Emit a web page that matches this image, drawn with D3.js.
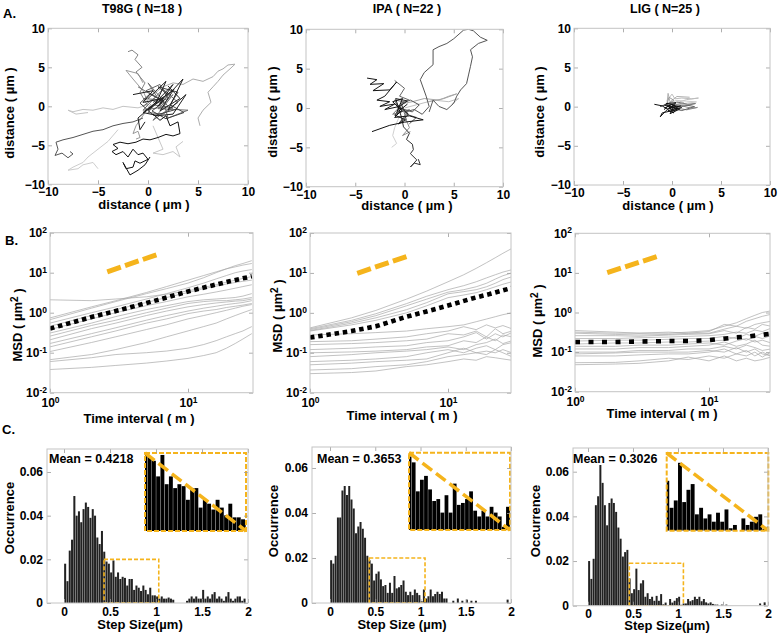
<!DOCTYPE html>
<html>
<head>
<meta charset="utf-8">
<script src="https://cdn.jsdelivr.net/npm/d3@7/dist/d3.min.js"></script>
<style>
html,body{margin:0;padding:0;background:#fff;}
svg text{font-family:"Liberation Sans",Arial,Helvetica,sans-serif;font-weight:bold;fill:#000;}
.ax line{stroke:#9a9a9a;stroke-width:0.8;}
.ax text{font-size:12px;}
</style>
</head>
<body>
<svg id="fig" width="780" height="637" xmlns="http://www.w3.org/2000/svg"></svg>
<script>
// ---------------- DATA ----------------
const panelTitles = ["T98G ( N=18 )", "IPA ( N=22 )", "LIG ( N=25 )"];
const panelLetters = ["A.", "B.", "C."];
const distTicks = [-10, -5, 0, 5, 10];

// trajectories (µm), one array of [x,y] per track
const tracksT98G = [
  [[0,0.2],[-1,-0.2],[-2.5,0],[-3.5,-0.4],[-4.5,-0.2],[-5.5,-0.5],[-6.5,-0.4],[-7.5,-0.7],[-8.0,-0.5],[-7.2,-1.0],[-6.0,-0.8]],
  [[-3.0,-3.0],[-4,-4.5],[-5,-5.5],[-6,-6.5],[-6.5,-7.2],[-7.5,-7.8],[-8.0,-8.2],[-7.0,-8.0],[-6.5,-7.5],[-5.5,-7.2],[-5.0,-8.0]],
  [[0.5,-2.5],[1,-4],[1.5,-5.5],[0.5,-6.0],[1.5,-6.2],[2.5,-5.8],[3.2,-6.5],[2.8,-5.2],[3.5,-4.5]],
  [[0.5,1.5],[1.5,2.5],[2.5,3.0],[3.5,2.8],[4.5,3.5],[5.5,3.2],[6.5,3.8],[7.0,4.5],[7.5,4.8],[8.0,5.3],[8.7,5.4],[8.2,4.8],[7.5,4.0],[7.0,3.2],[6.5,2.5],[6.0,1.8],[6.3,0.5],[5.5,-0.5],[5.0,-1.5],[5.2,-2.5]],
  [[0.3,0.3],[-1.2,-2.5],[-1.5,-3.5],[-1.0,-3.2],[-0.8,-4.0],[-1.2,-4.2]],
  [[0,0.5],[-0.5,2],[-1.5,3.5],[-2.2,4.6],[-1.0,4.2],[-0.5,3.0]],
  [[0,0],[-0.8,1.8],[-0.3,3.0],[-1.2,4.4],[-0.6,5.0],[-1.3,6.0],[-1.0,6.6],[-1.6,7.2],[-2.0,7.0]],
  [[-1,2.5],[1,1],[0,3],[2,0],[-0.5,-0.5],[1.5,2.2],[3,0.5],[0.5,-1.8],[2.5,1.5],[1.0,-0.3],[4.0,-0.5],[2.0,-1.5],[1.5,0.8],[-0.5,1.0]],
  [[-0.5,0],[0.8,1.2],[-0.2,2.0],[1.2,2.8],[2.0,1.0],[0.5,0.2],[2.5,-0.2],[1.5,-1.0],[0,-0.8],[1.0,0.8]],
  [[-0.5,-1.5],[-1.5,-2.0],[-2.5,-2.2],[-3.5,-2.5],[-4.5,-3.0],[-5.5,-3.2],[-6.5,-3.6],[-7.5,-4.0],[-8.5,-4.3],[-9.2,-4.6],[-9.0,-5.5],[-9.3,-6.3],[-8.6,-6.0],[-8.0,-6.6],[-7.5,-6.1],[-7.8,-5.8]],
  [[0.5,0.5],[2,1.5],[1,2.5],[3,1.8],[2.2,0.2],[3.6,-0.8],[1.8,-1.6],[0.4,-0.6],[1.6,0.6],[0.2,1.6],[-0.8,0.4],[0.6,-1.2],[2.8,-0.4]],
  [[-1.5,1.5],[0.5,2.0],[-0.5,0.5],[1.5,1.0],[0,-0.5],[2.5,2.8],[1.0,0],[3.5,3.5],[2.0,-0.5],[3.8,1.5],[2.5,-1],[1.0,-1.2],[-0.5,-0.8],[0.8,0.5],[-1.0,-1.5],[-0.8,-3.0],[-0.3,-2.0]],
  [[0,1],[1.8,3.2],[0.8,0.4],[2.6,2.2],[1.2,-0.6],[3.2,1.0],[2.0,2.6]],
  [[0.5,-1.0],[1.2,-1.8],[1.8,-1.2],[2.2,-2.5],[3.0,-2.0],[3.2,-3.5],[2.5,-3.8],[1.8,-3.6],[1.0,-4.0],[0.2,-4.3],[-0.5,-4.2],[-1.2,-4.6],[-2.0,-4.8],[-2.8,-4.6],[-3.5,-4.9],[-3.0,-5.4],[-3.6,-5.8],[-3.2,-6.2],[-2.5,-5.8],[-2.0,-6.5],[-1.5,-5.5],[-1.0,-6.2],[-0.5,-6.0],[0,-6.8],[-0.8,-7.3],[-1.3,-7.0],[-1.5,-7.8],[-2.2,-8.0],[-2.5,-7.2],[-1.8,-8.8],[-1.0,-8.2],[-0.3,-7.5],[0.2,-6.5]]
];
const shadesT98G = ["#c4c4c4","#cdcdcd","#c8c8c8","#adadad","#999","#9a9a9a","#858585","#6e6e6e","#666","#555","#444","#1e1e1e","#222","#111"];

const tracksIPA = [
  [[-0.5,-1],[-1,-2.5],[-1.2,-3.5],[-0.8,-4.5],[-1.3,-5.0]],
  [[0,0],[1.5,0.5],[3.0,1.0],[4.5,0.8],[5.5,1.2],[4.8,0.5]],
  [[-0.5,0.5],[0.8,0.8],[2.0,1.2],[3.5,1.0],[4.5,1.5],[5.3,1.8],[4.0,1.2],[2.5,0.8]],
  [[0,-1],[0.5,-2.5],[-0.2,-3.5],[0.6,-3.0]],
  [[-0.5,-0.5],[-1.0,1.0],[0,0.8],[-1.2,-0.8],[0.5,-0.2],[-0.6,-2.0],[0.2,-1.5],[-0.3,0.5]],
  [[-1.0,3.5],[0,2.5],[-0.5,1.5],[0.5,1.0]],
  [[-0.5,0],[0.8,-0.5],[1.5,0.4],[0.6,1.0],[-0.4,0.6],[0.2,-0.8],[1.2,-1.2],[0.5,-2.0]],
  [[0,-0.5],[1,-0.2],[1.8,-0.8],[2.5,0.2],[2.2,1.5],[1.6,3.6],[2.0,4.5],[2.9,5.5],[2.9,7.4],[3.5,7.8],[4.3,8.2],[5.0,8.8],[6.0,9.9],[6.5,10],[7.0,9.8],[7.7,9.0],[8.4,8.6],[7.5,8.2],[6.7,7.4],[6.9,6.5],[6.7,5.3],[6.5,4.2],[6.3,3.1],[5.7,2.3],[5.3,1.5],[5.0,0.6],[4.3,-0.2],[3.5,0.2],[2.9,1.0],[2.5,-0.5]],
  [[-0.3,-1.2],[-0.1,-2.4],[0.5,-3.2],[0.2,-4.0],[0.8,-4.6],[0.9,-5.3],[0.6,-5.8],[1.25,-6.6],[0.6,-7.5],[1.0,-7.0],[1.6,-7.2],[1.4,-6.5]],
  [[-0.8,0.6],[-0.2,-0.4],[-1.0,-0.9],[0.1,-1.5],[-0.6,-2.0],[0.4,-0.8],[-0.5,0.2],[0.3,0.9],[-0.9,1.2],[-0.3,-1.2]],
  [[-3.8,3.8],[-2.8,3.6],[-3.5,3.0],[-2.1,3.1],[-3.2,2.2],[-1.5,2.3],[-0.8,3.3],[-2.0,1.5],[-2.8,1.0],[-1.5,0.8],[-2.5,0.2],[-1.0,0.5],[-2.0,-0.2],[-0.5,0.2]],
  [[-3.3,-3.0],[-1.5,-2.2],[0,-1.8],[1.9,-1.5],[0.5,-1.0],[-1.0,-1.2],[-0.3,-0.3],[-1.2,0.8],[-0.2,1.2],[-0.8,-0.6],[0.3,0.5]]
];
const shadesIPA = ["#d0d0d0","#c0c0c0","#a8a8a8","#909090","#7a7a7a","#666","#555","#555","#333","#222","#151515","#111"];

const tracksLIG = [
  [[-0.5,0.8],[0,1.6],[0.3,1.0],[1.0,1.1],[2.0,1.0],[2.7,1.1],[1.5,0.9],[0.5,0.5]],
  [[-0.3,0.5],[0.5,0.8],[1.5,0.7],[2.5,0.6],[1.2,0.4]],
  [[-0.5,0.5],[-0.4,1.7],[-0.2,0.6],[0.5,1.3],[1.8,1.2]],
  [[-0.5,0.3],[0.2,0.8],[-0.3,1.2],[-0.5,0.4],[0.5,0.3],[1.2,0.5]],
  [[0,0],[1,0.1],[2.0,-0.2],[2.6,-0.1],[1.5,-0.4],[0.5,-0.2]],
  [[-0.3,0.1],[0.5,0.6],[1.6,0.3],[2.4,0.4],[1.0,0],[0.2,-0.3]],
  [[0,0.2],[1.5,0.2],[2.3,0.0],[1.0,-0.5],[0.3,-0.3]],
  [[-1.2,0],[-0.4,0.4],[0.2,-0.5],[1.0,-0.1],[-0.2,0.3],[-0.8,-0.4]],
  [[-0.8,-0.2],[0,0.3],[0.6,-0.2],[-0.4,-0.5],[0.2,-0.8],[-0.6,0.4],[0.4,0.5],[-0.2,-0.2],[0.9,0.1]],
  [[-1.8,0.3],[-1.0,0.1],[-0.5,-0.3],[0,0],[0.5,-0.4],[-0.3,-0.6],[-1.0,-0.8],[-1.2,-1.3],[-0.6,-0.5],[0.3,0.2],[-0.2,-0.9],[0.8,-0.3],[-0.8,0.2]]
];
const shadesLIG = ["#bdbdbd","#cccccc","#b0b0b0","#9a9a9a","#888","#777","#666","#333","#0a0a0a","#111"];

// MSD curves (µm²) sampled at these time lags (m)
const msdLags = [1, 2, 3, 5, 7, 10, 13, 16, 19, 22, 25, 29];
const msdT98G = [
  [2.1, 2.0, 2.2, 2.5, 2.9, 3.5, 4.3, 5.0, 5.8, 6.5, 7.2, 8.0],
  [0.74, 1.4, 2.0, 3.2, 4.5, 6.5, 8.5, 10.5, 12.5, 14, 15.5, 17],
  [0.67, 1.3, 1.9, 3.0, 4.0, 5.5, 7.5, 10, 12.5, 15, 17, 20],
  [0.55, 1.0, 1.4, 2.2, 3.0, 4.2, 5.5, 7, 8.5, 10, 11, 12],
  [0.46, 0.85, 1.2, 1.8, 2.4, 3.2, 4.0, 4.6, 5.2, 5.7, 6.1, 6.5],
  [0.38, 0.70, 1.0, 1.5, 1.9, 2.5, 2.9, 3.3, 3.7, 4.1, 4.5, 5.0],
  [0.31, 0.55, 0.8, 1.2, 1.5, 1.9, 2.1, 2.2, 2.3, 2.4, 2.6, 3.0],
  [0.26, 0.48, 0.65, 1.0, 1.3, 1.7, 1.9, 2.0, 2.0, 2.1, 2.2, 2.4],
  [0.21, 0.40, 0.55, 0.85, 1.1, 1.4, 1.6, 1.75, 1.85, 1.95, 2.0, 2.2],
  [0.17, 0.30, 0.42, 0.65, 0.85, 1.1, 1.3, 1.45, 1.6, 1.7, 1.8, 2.0],
  [0.14, 0.25, 0.35, 0.55, 0.7, 0.95, 1.1, 1.2, 1.35, 1.45, 1.55, 1.7],
  [0.107, 0.18, 0.25, 0.38, 0.5, 0.7, 0.85, 1.0, 1.15, 1.3, 1.45, 1.6],
  [0.067, 0.09, 0.12, 0.18, 0.25, 0.35, 0.45, 0.55, 0.7, 0.85, 1.0, 1.2],
  [0.06, 0.075, 0.09, 0.1, 0.11, 0.13, 0.16, 0.2, 0.25, 0.3, 0.35, 0.45],
  [0.038, 0.043, 0.048, 0.055, 0.062, 0.072, 0.085, 0.1, 0.13, 0.17, 0.22, 0.3]
];
const msdIPA = [
  [0.42, 0.75, 1.15, 2.2, 3.5, 6, 9, 13, 18, 24, 31, 41],
  [0.40, 0.65, 0.95, 1.7, 2.6, 3.8, 4.8, 6, 7.5, 9, 10.5, 12],
  [0.38, 0.6, 0.85, 1.5, 2.2, 3.3, 3.8, 4.5, 5.5, 7, 8.5, 10],
  [0.36, 0.55, 0.75, 1.2, 1.8, 3.0, 3.4, 3.8, 4.5, 5.5, 6.8, 8],
  [0.35, 0.5, 0.65, 1.0, 1.5, 2.4, 2.8, 3.2, 3.8, 4.5, 5.2, 6],
  [0.28, 0.3, 0.32, 0.35, 0.4, 0.45, 0.5, 0.6, 0.7, 0.8, 0.9, 1.0],
  [0.19, 0.2, 0.22, 0.25, 0.3, 0.35, 0.45, 0.38, 0.5, 0.42, 0.48, 0.4],
  [0.16, 0.17, 0.18, 0.2, 0.22, 0.3, 0.28, 0.35, 0.25, 0.4, 0.3, 0.35],
  [0.12, 0.13, 0.14, 0.15, 0.18, 0.2, 0.25, 0.32, 0.22, 0.3, 0.25, 0.32],
  [0.10, 0.105, 0.11, 0.12, 0.14, 0.15, 0.2, 0.18, 0.25, 0.2, 0.28, 0.25],
  [0.08, 0.09, 0.1, 0.11, 0.12, 0.14, 0.12, 0.16, 0.18, 0.22, 0.17, 0.2],
  [0.06, 0.065, 0.07, 0.08, 0.1, 0.12, 0.1, 0.13, 0.15, 0.12, 0.16, 0.18],
  [0.05, 0.055, 0.06, 0.065, 0.07, 0.1, 0.13, 0.1, 0.09, 0.12, 0.1, 0.08],
  [0.037, 0.04, 0.045, 0.05, 0.06, 0.08, 0.09, 0.1, 0.11, 0.1, 0.12, 0.1],
  [0.03, 0.032, 0.035, 0.045, 0.05, 0.06, 0.07, 0.065, 0.08, 0.075, 0.07, 0.065]
];
const msdLIG = [
  [0.35, 0.32, 0.3, 0.3, 0.32, 0.35, 0.45, 0.55, 0.7, 0.85, 1.0, 1.1],
  [0.32, 0.3, 0.3, 0.32, 0.3, 0.33, 0.5, 0.45, 0.6, 0.7, 0.8, 0.9],
  [0.3, 0.28, 0.27, 0.28, 0.3, 0.3, 0.38, 0.45, 0.4, 0.5, 0.55, 0.6],
  [0.26, 0.26, 0.25, 0.27, 0.28, 0.29, 0.35, 0.3, 0.42, 0.38, 0.5, 0.45],
  [0.22, 0.22, 0.23, 0.24, 0.25, 0.26, 0.28, 0.32, 0.3, 0.36, 0.33, 0.4],
  [0.19, 0.2, 0.2, 0.21, 0.22, 0.22, 0.25, 0.22, 0.28, 0.25, 0.3, 0.28],
  [0.16, 0.17, 0.17, 0.18, 0.18, 0.19, 0.2, 0.24, 0.2, 0.25, 0.22, 0.26],
  [0.14, 0.14, 0.15, 0.15, 0.16, 0.17, 0.15, 0.19, 0.22, 0.18, 0.2, 0.17],
  [0.12, 0.12, 0.13, 0.13, 0.14, 0.15, 0.18, 0.14, 0.16, 0.2, 0.15, 0.14],
  [0.1, 0.1, 0.11, 0.11, 0.12, 0.12, 0.14, 0.12, 0.15, 0.13, 0.11, 0.12],
  [0.09, 0.095, 0.1, 0.1, 0.1, 0.11, 0.1, 0.13, 0.1, 0.12, 0.09, 0.08],
  [0.08, 0.08, 0.085, 0.09, 0.09, 0.1, 0.12, 0.09, 0.11, 0.08, 0.1, 0.08],
  [0.054, 0.055, 0.06, 0.07, 0.065, 0.08, 0.07, 0.09, 0.08, 0.1, 0.075, 0.1],
  [0.048, 0.05, 0.052, 0.06, 0.075, 0.06, 0.08, 0.06, 0.07, 0.06, 0.065, 0.075]
];
const meanLags = [1, 2, 3, 5, 7, 10, 15, 20, 29];
const meanT98G = [0.40, 0.78, 1.1, 1.75, 2.4, 3.4, 4.8, 6.1, 8.1];
const meanIPA  = [0.24, 0.35, 0.46, 0.80, 1.08, 1.52, 2.3, 2.95, 4.2];
const meanLIG  = [0.18, 0.18, 0.185, 0.19, 0.19, 0.20, 0.23, 0.25, 0.29];
// slope reference segments [lag, MSD]
const refT98G = [[2.6, 10.5], [5.9, 28]];
const refIPA  = [[2.2, 9.8], [5.0, 25.7]];
const refLIG  = [[1.74, 10.2], [4.07, 25.7]];
const msdYTicks = [0.01, 0.1, 1, 10, 100];
const msdXTicks = [1, 10];

// step size histograms: bins of 0.025 µm from 0 to 2 µm
const binWidth = 0.025;
const histT98G = [
  0.018, 0.010, 0.024, 0.029, 0.049, 0.040, 0.042, 0.037, 0.043, 0.046, 0.044, 0.039, 0.043, 0.040, 0.030, 0.027, 0.033, 0.0235,
  0.019, 0.018, 0.014, 0.0195, 0.012, 0.014, 0.011, 0.012, 0.0115, 0.008, 0.011, 0.011, 0.006, 0.008, 0.007, 0.0055, 0.008, 0.006, 0.004, 0.007, 0.0035, 0.0035, 0.003, 0.002,
  0.003, 0.002, 0.002, 0.0025, 0.002, 0.0015, 0, 0, 0, 0, 0, 0.001, 0.002, 0.003, 0.002, 0.003, 0.002, 0.002, 0.006, 0.002,
  0.003, 0.002, 0.004, 0.005, 0.002, 0.003, 0.002, 0.001, 0.003, 0.005, 0.002, 0.001, 0.002, 0.003, 0.003, 0.001, 0.002, 0
];
const histIPA = [
  0.019, 0.0175, 0.021, 0.038, 0.038, 0.050, 0.052, 0.048, 0.052, 0.046, 0.042, 0.031, 0.034, 0.036, 0.033, 0.029, 0.021, 0.019,
  0.0175, 0.010, 0.013, 0.014, 0.0105, 0.0075, 0.008, 0.0045, 0.009, 0.0045, 0.012, 0.0065, 0.007, 0.008, 0.010, 0.005, 0.0035, 0.005, 0.0035, 0.006, 0.0045, 0.0035, 0.0008, 0.006,
  0.002, 0.003, 0.006, 0.003, 0.004, 0.005, 0.004, 0.005, 0.002, 0.002, 0, 0, 0.001, 0, 0.002, 0, 0.001, 0, 0.0015, 0,
  0.001, 0, 0.001, 0, 0, 0, 0, 0, 0, 0, 0, 0, 0, 0, 0, 0, 0.0015, 0
];
const histLIG = [
  0.020, 0.012, 0.021, 0.045, 0.049, 0.063, 0.055, 0.045, 0.036, 0.046, 0.048, 0.046, 0.042, 0.035, 0.030, 0.022, 0.024, 0.025,
  0.0122, 0.0056, 0.0074, 0.0166, 0.007, 0.010, 0.0114, 0.004, 0.0056, 0.003, 0.004, 0.0022, 0.0044, 0.0022, 0.0052, 0.0006, 0.0014, 0, 0.003, 0.0014, 0.0022, 0.0034, 0.004, 0.0004,
  0.001, 0.001, 0.003, 0.002, 0.0025, 0.004, 0.003, 0.004, 0.002, 0.003, 0.0015, 0.001, 0.0015, 0.0008, 0.0005, 0.0005, 0, 0.0005, 0, 0.0005,
  0, 0, 0, 0, 0, 0, 0, 0, 0, 0, 0, 0, 0, 0, 0.001, 0, 0.0015, 0
];
const stepMeans = ["0.4218", "0.3653", "0.3026"];
const stepXLabels = ["Step Size(µm)", "Step Size (µm)", "Step Size(µm)"];
// zoomed region [xmin, xmax, ymin, ymax]
const zoomT98G = [0.435, 1.03, 0, 0.02];
const zoomIPA  = [0.434, 1.05, 0, 0.02];
const zoomLIG  = [0.459, 1.06, 0, 0.019];
const stepXTicks = [0, 0.5, 1, 1.5, 2];
const stepYTicks = [0, 0.02, 0.04, 0.06];

// ---------------- LAYOUT ----------------
const ORANGE = "#f5b41c";
const svg = d3.select("#fig");
let clipCount = 0;
function clipRect(x0, y0, x1, y1) {
  const id = "clip" + (clipCount++);
  svg.append("clipPath").attr("id", id).append("rect")
    .attr("x", x0).attr("y", y0).attr("width", x1 - x0).attr("height", y1 - y0);
  return "url(#" + id + ")";
}
function frame(b) {
  svg.append("rect").attr("x", b.x0).attr("y", b.y0).attr("width", b.x1 - b.x0).attr("height", b.y1 - b.y0)
    .attr("fill", "none").attr("stroke", "#c4c4c4").attr("stroke-width", 1);
}
function axes(xs, ys, b, xt, yt, xf, yf, xOff, yGap) {
  const bottom = svg.append("g").attr("class", "ax").attr("transform", `translate(0,${b.y1})`)
    .call(d3.axisBottom(xs).tickValues(xt).tickFormat(xf).tickSizeInner(-4).tickSizeOuter(0));
  bottom.selectAll(".tick text").attr("y", xOff).attr("dy", null);
  const left = svg.append("g").attr("class", "ax").attr("transform", `translate(${b.x0},0)`)
    .call(d3.axisLeft(ys).tickValues(yt).tickFormat(yf).tickSizeInner(-4).tickSizeOuter(0));
  left.selectAll(".tick text").attr("x", -yGap);
  svg.append("g").attr("class", "ax").attr("transform", `translate(0,${b.y0})`)
    .call(d3.axisTop(xs).tickValues(xt).tickFormat(() => "").tickSizeInner(-4).tickSizeOuter(0));
  svg.append("g").attr("class", "ax").attr("transform", `translate(${b.x1},0)`)
    .call(d3.axisRight(ys).tickValues(yt).tickFormat(() => "").tickSizeInner(-4).tickSizeOuter(0));
  svg.selectAll(".ax .domain").remove();
  return { bottom, left };
}
function powLabels(sel) {
  sel.selectAll(".tick text").each(function (d) {
    const t = d3.select(this);
    t.text(null);
    t.append("tspan").text("10");
    t.append("tspan").attr("dy", "-0.5em").style("font-size", "8.5px").text(Math.round(Math.log10(d)));
  });
}
function label(x, y, txt, size, rot) {
  const t = svg.append("text").attr("text-anchor", "middle").style("font-size", size + "px");
  if (rot) t.attr("transform", `translate(${x},${y}) rotate(-90)`);
  else t.attr("x", x).attr("y", y);
  t.text(txt);
  return t;
}

// letters
svg.append("text").attr("x", 3).attr("y", 18).style("font-size", "13px").text(panelLetters[0]);
svg.append("text").attr("x", 5).attr("y", 245).style("font-size", "13px").text(panelLetters[1]);
svg.append("text").attr("x", 2).attr("y", 434).style("font-size", "13px").text(panelLetters[2]);

// ---------- Row A: trajectories ----------
const rowA = [
  { b: { x0: 48, x1: 248, y0: 28.3, y1: 184.3 }, tracks: tracksT98G, shades: shadesT98G, titleX: 142, yl: [14, 113], xl: [144, 209] },
  { b: { x0: 306, x1: 503, y0: 29.3, y1: 186.7 }, tracks: tracksIPA, shades: shadesIPA, titleX: 407, yl: [277, 112], xl: [407, 210] },
  { b: { x0: 574, x1: 770, y0: 28.3, y1: 185 }, tracks: tracksLIG, shades: shadesLIG, titleX: 665, yl: [544, 112], xl: [668, 210] }
];
rowA.forEach((p, i) => {
  const b = p.b;
  const xs = d3.scaleLinear().domain([-10, 10]).range([b.x0, b.x1]);
  const ys = d3.scaleLinear().domain([-10, 10]).range([b.y1, b.y0]);
  const line = d3.line().x(d => xs(d[0])).y(d => ys(d[1]));
  const g = svg.append("g").attr("clip-path", clipRect(b.x0, b.y0, b.x1, b.y1));
  g.selectAll("path").data(p.tracks).join("path")
    .attr("d", line).attr("fill", "none")
    .attr("stroke", (d, k) => p.shades[k]).attr("stroke-width", 1).attr("stroke-linejoin", "round");
  axes(xs, ys, b, distTicks, distTicks, d3.format("d"), d3.format("d"), 12, 3);
  frame(b);
  label(p.titleX, 13, panelTitles[i], 12.5, false);
  label(p.xl[0], p.xl[1], "distance ( µm )", 13, false);
  label(p.yl[0], p.yl[1], "distance ( µm )", 13, true);
});

// ---------- Row B: MSD ----------
const rowB = [
  { b: { x0: 50, x1: 253, y0: 232.7, y1: 392.7 }, x10: 188, lines: msdT98G, mean: meanT98G, ref: refT98G, dash: "4.5,3.8", yl: [22, 325], xl: [139, 423] },
  { b: { x0: 310, x1: 511, y0: 233, y1: 392.7 }, x10: 448, lines: msdIPA, mean: meanIPA, ref: refIPA, dash: "4.5,3.8", yl: [282, 316], xl: [402, 420] },
  { b: { x0: 575, x1: 770, y0: 233.3, y1: 391.7 }, x10: 709, lines: msdLIG, mean: meanLIG, ref: refLIG, dash: "5,8.5", yl: [542, 321], xl: [662, 418] }
];
rowB.forEach(p => {
  const b = p.b;
  const xs = d3.scaleLog().domain([1, 10]).range([b.x0, p.x10]);
  const ys = d3.scaleLog().domain([0.01, 100]).range([b.y1, b.y0]);
  const g = svg.append("g").attr("clip-path", clipRect(b.x0, b.y0, b.x1, b.y1));
  const line = d3.line().x(d => xs(d[0])).y(d => ys(d[1]));
  g.selectAll("path.msd").data(p.lines).join("path").attr("class", "msd")
    .attr("d", v => line(v.map((y, k) => [msdLags[k], y])))
    .attr("fill", "none").attr("stroke", "#a8a8a8").attr("stroke-width", 0.7);
  g.append("path").attr("d", line(p.mean.map((y, k) => [meanLags[k], y])))
    .attr("fill", "none").attr("stroke", "#000").attr("stroke-width", 4.6).attr("stroke-dasharray", p.dash);
  const ref = g.append("path").attr("d", line(p.ref)).attr("fill", "none")
    .attr("stroke", ORANGE).attr("stroke-width", 5);
  const L = ref.node().getTotalLength();
  const gap = 4.5;
  ref.attr("stroke-dasharray", `${(L - 2 * gap) / 3},${gap}`);
  const a = axes(xs, ys, b, msdXTicks, msdYTicks, () => "", () => "", 14.5, 3);
  powLabels(a.bottom);
  powLabels(a.left);
  frame(b);
  label(p.xl[0], p.xl[1], "Time interval ( m )", 13, false);
  const t = svg.append("text").attr("text-anchor", "middle").style("font-size", "13px")
    .attr("transform", `translate(${p.yl[0]},${p.yl[1]}) rotate(-90)`);
  t.append("tspan").text("MSD ( µm");
  t.append("tspan").attr("dy", "-0.45em").style("font-size", "10px").text("2");
  t.append("tspan").attr("dy", "0.45em").text(" )");
});

// ---------- Row C: step size histograms ----------
const rowC = [
  { b: { x0: 47, x1: 248, y0: 449, y1: 603 }, x0px: 64, x2px: 248, y0px: 603, y6px: 472, hist: histT98G, zoom: zoomT98G, inset: [145, 453, 246, 531], meanX: 49, yl: [14, 518], xl: [140, 629] },
  { b: { x0: 312, x1: 511, y0: 447, y1: 603 }, x0px: 330, x2px: 511, y0px: 603, y6px: 468, hist: histIPA, zoom: zoomIPA, inset: [409, 452.7, 510, 530], meanX: 317, yl: [278, 521], xl: [402, 629] },
  { b: { x0: 573, x1: 768, y0: 448, y1: 605.7 }, x0px: 588, x2px: 768, y0px: 605.7, y6px: 471.7, hist: histLIG, zoom: zoomLIG, inset: [666.7, 453, 768.3, 530.7], meanX: 573, yl: [540, 521], xl: [667, 630] }
];
const stepFmt = d => (d === 0 ? "0" : String(d));
rowC.forEach((p, i) => {
  const b = p.b;
  const xs = d3.scaleLinear().domain([0, 2]).range([p.x0px, p.x2px]);
  const ys = d3.scaleLinear().domain([0, 0.06]).range([p.y0px, p.y6px]);
  const bins = p.hist.map((v, k) => ({ x: k * binWidth, v }));
  const bw = xs(binWidth) - xs(0);
  const g = svg.append("g").attr("clip-path", clipRect(b.x0, b.y0, b.x1, b.y1));
  g.selectAll("rect").data(bins.filter(d => d.v > 0)).join("rect")
    .attr("x", d => xs(d.x) + bw * 0.06).attr("width", bw * 0.88)
    .attr("y", d => ys(d.v)).attr("height", d => ys(0) - ys(d.v))
    .attr("fill", "#222");
  const z = p.zoom;
  g.append("rect").attr("x", xs(z[0])).attr("y", ys(z[3])).attr("width", xs(z[1]) - xs(z[0])).attr("height", ys(z[2]) - ys(z[3]))
    .attr("fill", "none").attr("stroke", ORANGE).attr("stroke-width", 1.6).attr("stroke-dasharray", "4,2");
  // inset
  const [ix0, iy0, ix1, iy1] = p.inset;
  const xi = d3.scaleLinear().domain([z[0], z[1]]).range([ix0, ix1]);
  const yi = d3.scaleLinear().domain([z[2], z[3]]).range([iy1, iy0]);
  svg.append("rect").attr("x", ix0).attr("y", iy0).attr("width", ix1 - ix0).attr("height", iy1 - iy0).attr("fill", "#fff");
  const gi = svg.append("g").attr("clip-path", clipRect(ix0, iy0, ix1, iy1));
  const bwi = xi(binWidth) - xi(0);
  gi.selectAll("rect").data(bins.filter(d => d.v > 0)).join("rect")
    .attr("x", d => xi(d.x) + bwi * 0.04).attr("width", bwi * 0.92)
    .attr("y", d => yi(d.v)).attr("height", d => yi(0) - yi(d.v))
    .attr("fill", "#000");
  svg.append("rect").attr("x", ix0).attr("y", iy0).attr("width", ix1 - ix0).attr("height", iy1 - iy0)
    .attr("fill", "none").attr("stroke", ORANGE).attr("stroke-width", 2).attr("stroke-dasharray", "5,2");
  svg.append("line").attr("x1", ix0).attr("y1", iy0).attr("x2", ix1).attr("y2", iy1)
    .attr("stroke", ORANGE).attr("stroke-width", 3.5).attr("stroke-dasharray", "12,5");

  axes(xs, ys, b, stepXTicks, stepYTicks, stepFmt, stepFmt, 12.5, 4);
  frame(b);
  svg.append("text").attr("x", p.meanX).attr("y", 463).style("font-size", "12.5px").text("Mean = " + stepMeans[i]);
  label(p.xl[0], p.xl[1], stepXLabels[i], 13, false);
  label(p.yl[0], p.yl[1], "Occurrence", 13, true);
});
</script>
</body>
</html>
